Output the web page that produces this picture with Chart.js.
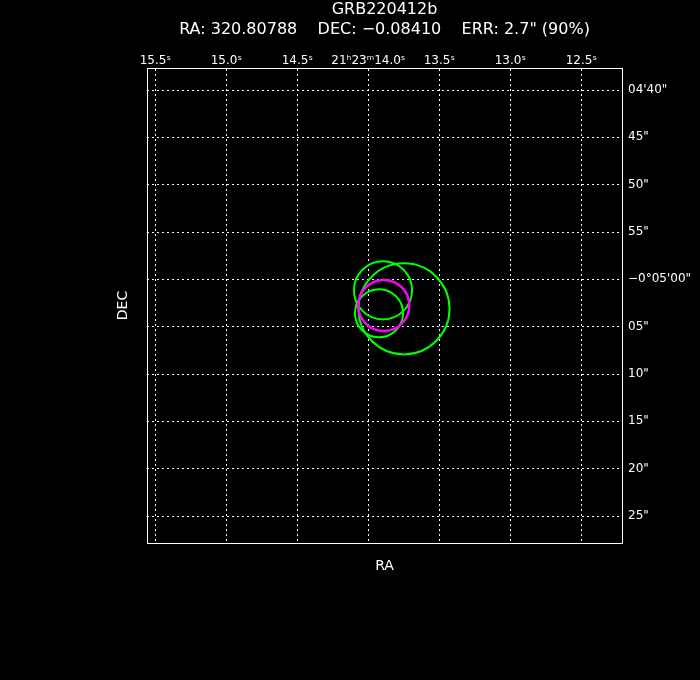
<!DOCTYPE html>
<html>
<head>
<meta charset="utf-8">
<script src="https://cdn.jsdelivr.net/npm/chart.js@4"></script>
<style>
html, body { margin: 0; padding: 0; background: #000; }
#box { width: 700px; height: 680px; }
</style>
</head>
<body>
<div id="box"><canvas id="grbChart" width="700" height="680"></canvas></div>
<script>
// 标题
const titleLines = ['GRB220412b', 'RA: 320.80788    DEC: \u22120.08410    ERR: 2.7" (90%)'];

// RA 刻度 (21h23m 之后的秒数)
const raTickValues = [15.5, 15.0, 14.5, 14.0, 13.5, 13.0, 12.5];
const raTickLabels = ['15.5\u02e2', '15.0\u02e2', '14.5\u02e2', '21\u02b023\u1d5014.0\u02e2', '13.5\u02e2', '13.0\u02e2', '12.5\u02e2'];

// DEC 刻度 (-0°04'00" 之后的角秒)
const decTickValues = [40, 45, 50, 55, 60, 65, 70, 75, 80, 85];
const decTickLabels = ["04'40\"", '45"', '50"', '55"', "\u22120\u00b005'00\"", '05"', '10"', '15"', '20"', '25"'];

// 坐标范围
const raRange = [12.2134, 15.5585];
const decRange = [37.676, 87.852];

// GRB 位置 (品红)
const grbRa = [13.891];
const grbDec = [62.76];
const grbErr = [2.7];

// 其他误差圆 (绿色)
const greenRa = [13.8965, 13.9246, 13.7486];
const greenDec = [61.16, 63.59, 63.12];
const greenErr = [3.07, 2.54, 4.81];

function toPoints(ra, dec, err) {
    return ra.map((v, i) => ({ x: v, y: dec[i], err: err[i] }));
}

// 角秒半径 -> 像素
function errRadius(ctx) {
    const yScale = ctx.chart.scales.y;
    const p = ctx.raw;
    if (!yScale || !p) return 0;
    return Math.abs(yScale.getPixelForValue(p.y + p.err) - yScale.getPixelForValue(p.y));
}

Chart.defaults.font.family = "'DejaVu Sans', sans-serif";
Chart.defaults.color = '#fff';

const gridOpts = {
    color: '#fff',
    lineWidth: 1,
    drawTicks: false
};
const borderOpts = {
    color: '#fff',
    width: 1,
    dash: [2, 3]
};

const ctx = document.getElementById('grbChart').getContext('2d');
const grbChart = new Chart(ctx, {
    type: 'scatter',
    data: {
        datasets: [
            {
                label: 'GRB',
                data: toPoints(grbRa, grbDec, grbErr),
                borderColor: '#ff00ff',
                backgroundColor: 'rgba(0,0,0,0)',
                borderWidth: 2.5,
                pointRadius: errRadius
            },
            {
                label: 'other',
                data: toPoints(greenRa, greenDec, greenErr),
                borderColor: '#00ff00',
                backgroundColor: 'rgba(0,0,0,0)',
                borderWidth: 2,
                pointRadius: errRadius
            }
        ]
    },
    options: {
        responsive: false,
        animation: false,
        events: [],
        layout: {
            padding: { left: 115, right: 0, top: 0, bottom: 105 }
        },
        plugins: {
            legend: { display: false },
            tooltip: { enabled: false },
            title: {
                display: true,
                text: titleLines,
                color: '#fff',
                fullSize: false,
                padding: { top: 0, bottom: 0 },
                font: { size: 16, weight: 'normal', lineHeight: '20px' }
            }
        },
        scales: {
            x: {
                type: 'linear',
                position: 'top',
                reverse: true,
                min: raRange[0],
                max: raRange[1],
                afterBuildTicks: s => { s.ticks = raTickValues.map(v => ({ value: v })); },
                afterFit: s => { s.height = 28; },
                ticks: {
                    autoSkip: false,
                    maxRotation: 0,
                    minRotation: 0,
                    padding: 0,
                    color: '#fff',
                    font: { size: 12 },
                    callback: v => raTickLabels[raTickValues.indexOf(v)]
                },
                grid: gridOpts,
                border: borderOpts
            },
            xBottom: {
                type: 'linear',
                position: 'bottom',
                reverse: true,
                min: raRange[0],
                max: raRange[1],
                afterFit: s => { s.height = 32; },
                ticks: { display: false },
                grid: { display: false },
                border: { color: '#fff', width: 1 },
                title: {
                    display: true,
                    text: 'RA',
                    color: '#fff',
                    padding: 0,
                    font: { size: 14 }
                }
            },
            y: {
                type: 'linear',
                position: 'right',
                reverse: true,
                min: decRange[0],
                max: decRange[1],
                afterBuildTicks: s => { s.ticks = decTickValues.map(v => ({ value: v })); },
                afterFit: s => { s.width = 78; },
                ticks: {
                    autoSkip: false,
                    padding: 6,
                    color: '#fff',
                    font: { size: 12 },
                    callback: v => decTickLabels[decTickValues.indexOf(v)]
                },
                grid: gridOpts,
                border: borderOpts
            },
            yLeft: {
                type: 'linear',
                position: 'left',
                reverse: true,
                min: decRange[0],
                max: decRange[1],
                afterFit: s => { s.width = 32; },
                ticks: { display: false },
                grid: { display: false },
                border: { color: '#fff', width: 1 },
                title: {
                    display: true,
                    text: 'DEC',
                    color: '#fff',
                    padding: 0,
                    font: { size: 14 }
                }
            }
        }
    }
});
</script>
</body>
</html>
